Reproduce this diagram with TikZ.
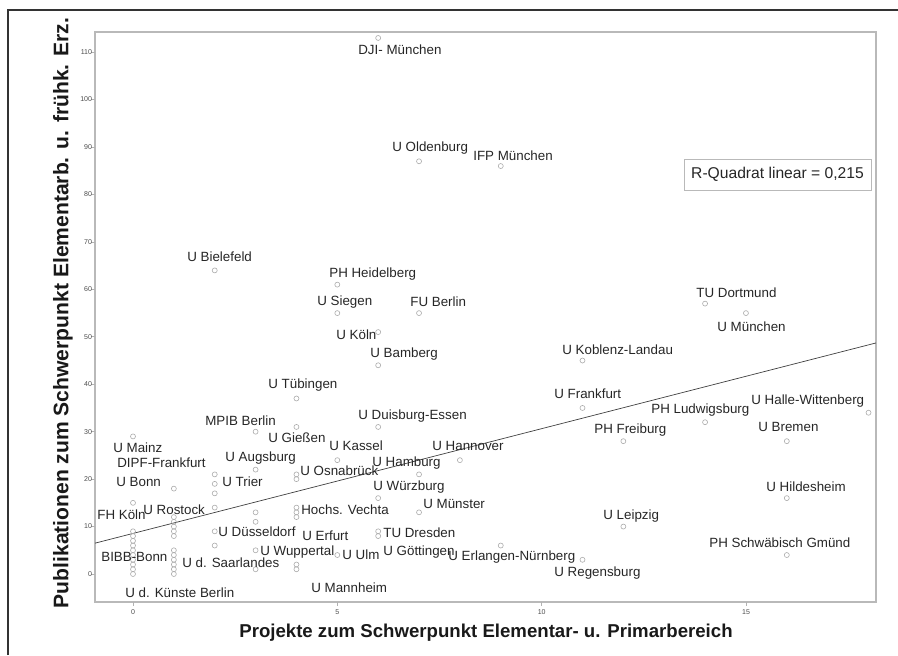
\documentclass[tikz,border=0pt]{standalone}
\usepackage{fontspec}
\setmainfont{Liberation Sans}
\usetikzlibrary{positioning}

\begin{document}
\begin{tikzpicture}[
    x=0.02cm, y=-0.02cm,
    dot/.style={circle, draw=gray!65, line width=0.35pt, inner sep=0pt, minimum size=0.1cm},
    uni/.style={anchor=west, inner sep=0pt, font=\fontsize{7.6}{9}\selectfont, text=black!85},
    ticklab/.style={inner sep=0pt, font=\fontsize{4}{5}\selectfont, text=black!70},
    axtitle/.style={inner sep=0pt, font=\bfseries, text=black!90},
    frame/.style={draw=gray!55, line width=0.8pt}
]
\useasboundingbox (0,0) rectangle (898,655);

% outer rule
\draw[black!80, line width=0.9pt] (8,655) -- (8,10) -- (898,10);

% plot area and ticks
\draw[frame] (95,32) rectangle (876,602);
\foreach \v in {0,10,...,110}
  \draw[gray!60, line width=0.4pt] (91,574-4.745*\v) -- (95,574-4.745*\v)
    node[ticklab, anchor=east, xshift=-1.5pt] {\v};
\foreach \v in {0,5,10,15}
  \draw[gray!60, line width=0.4pt] (133+40.87*\v,602) -- (133+40.87*\v,606)
    node[ticklab, anchor=north, yshift=-2pt] {\v};

% axis titles
\node[axtitle, font=\fontsize{10.6}{12}\selectfont\bfseries] (xtitle) at (486,633) {Projekte zum Schwerpunkt Elementar- u. Primarbereich};
\node[axtitle, font=\fontsize{12}{14}\selectfont\bfseries, rotate=90] (ytitle) at (63,313) {Publikationen zum Schwerpunkt Elementarb. u. frühk. Erz.};

% data (projects, publications)
\begin{scope}[shift={(133,574)}, x=0.8174cm, y=0.0949cm]
  \coordinate (fitl) at (-0.93,6.5);
  \coordinate (fitr) at (18.18,48.7);
  \draw[black!75, line width=0.4pt] (fitl) -- (fitr);

  \foreach \v in {0,...,9} \node[dot] (a\v) at (0,\v) {};
  \foreach \v in {0,1,2,3,4,5,8,9,10,11,12} \node[dot] (b\v) at (1,\v) {};
  \foreach \v in {6,9,14,17,19,21} \node[dot] (c\v) at (2,\v) {};
  \foreach \v in {1,5,11,13} \node[dot] (d\v) at (3,\v) {};
  \foreach \v in {1,2,12,13,14,20,21} \node[dot] (e\v) at (4,\v) {};
  \foreach \v in {8,9} \node[dot] (f\v) at (6,\v) {};
  \node[dot] (p-mainz) at (0,29) {};
  \node[dot] (p-fhkoeln) at (0,15) {};
  \node[dot] (p-bonn) at (1,18) {};
  \node[dot] (p-bielefeld) at (2,64) {};
  \node[dot] (p-mpib) at (3,30) {};
  \node[dot] (p-augsburg) at (3,22) {};
  \node[dot] (p-tuebingen) at (4,37) {};
  \node[dot] (p-giessen) at (4,31) {};
  \node[dot] (p-heidelberg) at (5,61) {};
  \node[dot] (p-siegen) at (5,55) {};
  \node[dot] (p-kassel) at (5,24) {};
  \node[dot] (p-ulm) at (5,4) {};
  \node[dot] (p-dji) at (6,113) {};
  \node[dot] (p-koeln) at (6,51) {};
  \node[dot] (p-bamberg) at (6,44) {};
  \node[dot] (p-duisburg) at (6,31) {};
  \node[dot] (p-wuerzburg) at (6,16) {};
  \node[dot] (p-oldenburg) at (7,87) {};
  \node[dot] (p-fuberlin) at (7,55) {};
  \node[dot] (p-hamburg) at (7,21) {};
  \node[dot] (p-muenster) at (7,13) {};
  \node[dot] (p-hannover) at (8,24) {};
  \node[dot] (p-ifp) at (9,86) {};
  \node[dot] (p-erlangen) at (9,6) {};
  \node[dot] (p-koblenz) at (11,45) {};
  \node[dot] (p-frankfurt) at (11,35) {};
  \node[dot] (p-regensburg) at (11,3) {};
  \node[dot] (p-freiburg) at (12,28) {};
  \node[dot] (p-leipzig) at (12,10) {};
  \node[dot] (p-dortmund) at (14,57) {};
  \node[dot] (p-ludwigsburg) at (14,32) {};
  \node[dot] (p-muenchen) at (15,55) {};
  \node[dot] (p-bremen) at (16,28) {};
  \node[dot] (p-hildesheim) at (16,16) {};
  \node[dot] (p-gmuend) at (16,4) {};
  \node[dot] (p-halle) at (18,34) {};
\end{scope}

% fit box
\node[draw=gray!55, line width=0.5pt, minimum width=187*0.02cm, minimum height=31*0.02cm, inner sep=0pt, font=\fontsize{8.9}{10}\selectfont, text=black!85] (rsq) at (777.5,174.5) {R-Quadrat linear = 0,215};

% labels
\node[uni] (l-dji) at (358,50) {DJI- München};
\node[uni] (l-oldenburg) at (392,148) {U Oldenburg};
\node[uni] (l-ifp) at (473,156) {IFP München};
\node[uni] (l-bielefeld) at (187,257) {U Bielefeld};
\node[uni] (l-heidelberg) at (329,274) {PH Heidelberg};
\node[uni] (l-siegen) at (317,302) {U Siegen};
\node[uni] (l-fuberlin) at (410,302) {FU Berlin};
\node[uni] (l-koeln) at (336,335) {U Köln};
\node[uni] (l-bamberg) at (370,354) {U Bamberg};
\node[uni] (l-tuebingen) at (268,385) {U Tübingen};
\node[uni] (l-koblenz) at (562,350) {U Koblenz-Landau};
\node[uni] (l-frankfurt) at (554,394) {U Frankfurt};
\node[uni] (l-dortmund) at (696,293) {TU Dortmund};
\node[uni] (l-muenchen) at (717,327) {U München};
\node[uni] (l-halle) at (751,401) {U Halle-Wittenberg};
\node[uni] (l-ludwigsburg) at (651,410) {PH Ludwigsburg};
\node[uni] (l-freiburg) at (594,430) {PH Freiburg};
\node[uni] (l-bremen) at (758,427) {U Bremen};
\node[uni] (l-duisburg) at (358,416) {U Duisburg-Essen};
\node[uni] (l-mpib) at (205,421) {MPIB Berlin};
\node[uni] (l-giessen) at (268,438) {U Gießen};
\node[uni] (l-kassel) at (329,446) {U Kassel};
\node[uni] (l-mainz) at (113,448) {U Mainz};
\node[uni] (l-hannover) at (432,446) {U Hannover};
\node[uni] (l-dipf) at (117,463) {DIPF-Frankfurt};
\node[uni] (l-augsburg) at (225,458) {U Augsburg};
\node[uni] (l-hamburg) at (372,463) {U Hamburg};
\node[uni] (l-osnabrueck) at (300,471) {U Osnabrück};
\node[uni] (l-bonn) at (116,482) {U Bonn};
\node[uni] (l-trier) at (222,482) {U Trier};
\node[uni] (l-wuerzburg) at (373,487) {U Würzburg};
\node[uni] (l-hildesheim) at (766,487) {U Hildesheim};
\node[uni] (l-fhkoeln) at (97,515) {FH Köln};
\node[uni] (l-rostock) at (143,510) {U Rostock};
\node[uni] (l-vechta) at (301,510) {Hochs. Vechta};
\node[uni] (l-muenster) at (423,504) {U Münster};
\node[uni] (l-leipzig) at (603,516) {U Leipzig};
\node[uni] (l-duesseldorf) at (218,532) {U Düsseldorf};
\node[uni] (l-erfurt) at (302,536) {U Erfurt};
\node[uni] (l-dresden) at (383,533) {TU Dresden};
\node[uni] (l-gmuend) at (709,543) {PH Schwäbisch Gmünd};
\node[uni] (l-bibb) at (101,557) {BIBB-Bonn};
\node[uni] (l-wuppertal) at (260,552) {U Wuppertal};
\node[uni] (l-ulm) at (342,555) {U Ulm};
\node[uni] (l-goettingen) at (383,552) {U Göttingen};
\node[uni] (l-erlangen) at (448,557) {U Erlangen-Nürnberg};
\node[uni] (l-saarland) at (182,563) {U d. Saarlandes};
\node[uni] (l-regensburg) at (554,573) {U Regensburg};
\node[uni] (l-mannheim) at (311,588) {U Mannheim};
\node[uni] (l-kuenste) at (125,593) {U d. Künste Berlin};

\end{tikzpicture}
\end{document}
